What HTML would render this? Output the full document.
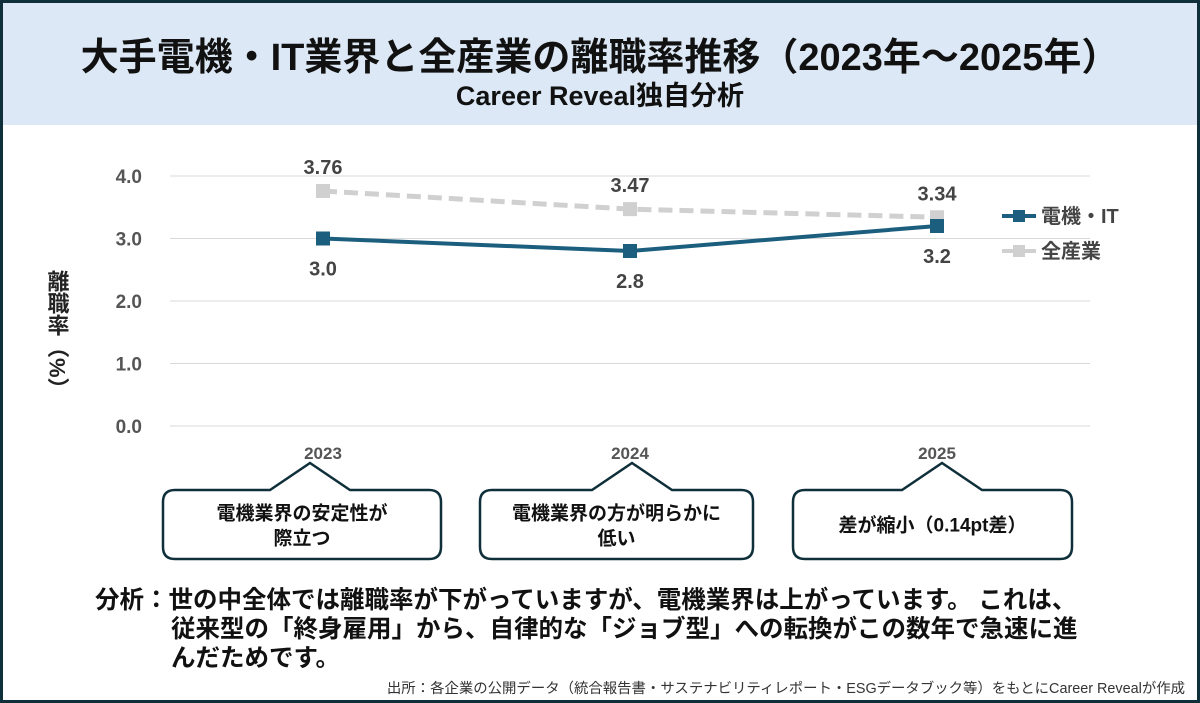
<!DOCTYPE html>
<html><head><meta charset="utf-8">
<style>
body{margin:0;width:1200px;height:703px;overflow:hidden;background:#fff;font-family:"Liberation Sans","Noto Sans CJK JP",sans-serif;}
#frame{position:absolute;left:0;top:0;width:1194px;height:697px;border:3px solid #0f2f3a;background:#fff;}
#header{position:absolute;left:0;top:0;width:1194px;height:122px;background:#dce8f5;}
.t{position:absolute;white-space:nowrap;color:#111;}
</style></head><body>
<div id="frame">
<div id="header"></div>
</div>
<div class="t" style="left:0;width:1200px;text-align:center;top:26px;font-size:38px;font-weight:bold;">大手電機・IT業界と全産業の離職率推移（2023年～2025年）</div>
<div class="t" style="left:0;width:1200px;text-align:center;top:74px;font-size:27px;font-weight:bold;">Career Reveal独自分析</div>
<svg id="chart" width="1200" height="703" style="position:absolute;left:0;top:0"></svg>
<div class="t" style="left:95px;top:586px;font-size:24.5px;font-weight:bold;line-height:29px;">分析：世の中全体では離職率が下がっていますが、電機業界は上がっています。 これは、<br><span style="padding-left:76px">従来型の「終身雇用」から、自律的な「ジョブ型」への転換がこの数年で急速に進</span><br><span style="padding-left:76px">んだためです。</span></div>
<div class="t" style="right:15px;top:677px;font-size:14.4px;color:#333;">出所：各企業の公開データ（統合報告書・サステナビリティレポート・ESGデータブック等）をもとにCareer Revealが作成</div>
<script>
const years=["2023","2024","2025"];
const itValues=[3.0,2.8,3.2];
const allValues=[3.76,3.47,3.34];
const itLabels=["3.0","2.8","3.2"];
const allLabels=["3.76","3.47","3.34"];
const yTicks=[0,1,2,3,4];
const yTickLabels=["0.0","1.0","2.0","3.0","4.0"];
const notes=[["電機業界の安定性が","際立つ"],["電機業界の方が明らかに","低い"],["差が縮小（0.14pt差）"]];

const svg=document.getElementById('chart');
const NS='http://www.w3.org/2000/svg';
const x=i=>323+i*307;
const y=v=>426-v*62.5;
function mk(tag,attrs,parent){const e=document.createElementNS(NS,tag);for(const k in attrs)e.setAttribute(k,attrs[k]);(parent||svg).appendChild(e);return e;}
function txt(s,attrs){const e=mk('text',attrs);e.textContent=s;return e;}
const F='"Liberation Sans","Noto Sans CJK JP",sans-serif';

yTicks.forEach((v,i)=>{
  const g=mk('line',{x1:170,x2:1090,y1:y(v),y2:y(v),stroke:'#d9d9d9','stroke-width':1});
  
  
  const t=txt(yTickLabels[i],{x:142,y:y(v)+7,'text-anchor':'end','font-size':19,'font-weight':'bold',fill:'#555','font-family':F});
  
  
});
years.forEach((yr,i)=>{
  const t=txt(yr,{x:x(i),y:459,'text-anchor':'middle','font-size':17,'font-weight':'bold',fill:'#555','font-family':F});
  
  
});
const yl=txt('',{x:57,y:270,'font-size':22,'font-weight':'bold',fill:'#222','font-family':F,'writing-mode':'tb','glyph-orientation-vertical':0});
yl.textContent='離職率（%）';



const allLine=mk('polyline',{points:allValues.map((v,i)=>x(i)+','+y(v)).join(' '),fill:'none',stroke:'#d0d0d0','stroke-width':5,'stroke-dasharray':'14,7'});


const itLine=mk('polyline',{points:itValues.map((v,i)=>x(i)+','+y(v)).join(' '),fill:'none',stroke:'#1b5e7e','stroke-width':4});


allValues.forEach((v,i)=>{
  const m=mk('rect',{x:x(i)-7,y:y(v)-7,width:14,height:14,fill:'#d0d0d0'});
  
  
  const t=txt(allLabels[i],{x:x(i),y:y(v)-17,'text-anchor':'middle','font-size':20,'font-weight':'bold',fill:'#444','font-family':F});
  
  
});
itValues.forEach((v,i)=>{
  const m=mk('rect',{x:x(i)-7,y:y(v)-7,width:14,height:14,fill:'#1b5e7e'});
  
  
  const t=txt(itLabels[i],{x:x(i),y:y(v)+37,'text-anchor':'middle','font-size':20,'font-weight':'bold',fill:'#444','font-family':F});
  
  
});
const lg1=mk('line',{x1:1002,x2:1036,y1:216,y2:216,stroke:'#1b5e7e','stroke-width':4});


const lm1=mk('rect',{x:1013,y:210,width:12,height:12,fill:'#1b5e7e'});


const lt1=txt('電機・IT',{x:1041,y:223,'font-size':20,'font-weight':'bold',fill:'#444','font-family':F});


const lg2=mk('line',{x1:1002,x2:1036,y1:251,y2:251,stroke:'#d0d0d0','stroke-width':4});


const lm2=mk('rect',{x:1013,y:245,width:12,height:12,fill:'#d0d0d0'});


const lt2=txt('全産業',{x:1041,y:258,'font-size':20,'font-weight':'bold',fill:'#444','font-family':F});


const boxes=[[163,441,310],[480,753,632],[793,1072,942]];
boxes.forEach((b,i)=>{
  const [l,r,p]=b,t=490,bt=559,rr=12;
  const d=`M${l+rr},${t} L${p-40},${t} L${p},${463} L${p+40},${t} L${r-rr},${t} Q${r},${t} ${r},${t+rr} L${r},${bt-rr} Q${r},${bt} ${r-rr},${bt} L${l+rr},${bt} Q${l},${bt} ${l},${bt-rr} L${l},${t+rr} Q${l},${t} ${l+rr},${t} Z`;
  const pa=mk('path',{d:d,fill:'#fff',stroke:'#0f2f3a','stroke-width':2.5});
  
  
  const lines=notes[i];
  const cy=(t+bt)/2+7-(lines.length-1)*12;
  lines.forEach((s,j)=>{
    const tx=txt(s,{x:(l+r)/2,y:cy+j*25,'text-anchor':'middle','font-size':19,'font-weight':'bold',fill:'#111','font-family':F});
    
    
  });
});
</script>
</body></html>
